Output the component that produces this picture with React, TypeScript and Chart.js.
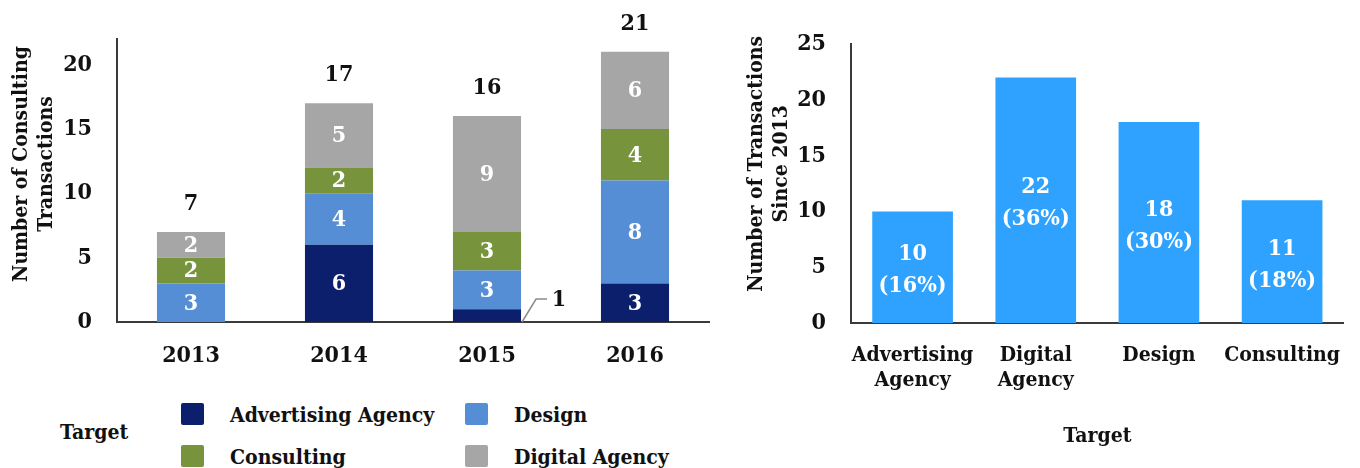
import React, { useEffect, useRef } from "react";
import { Chart, registerables } from "chart.js";

Chart.register(...registerables);

// ---------- data ----------
const years = ["2013", "2014", "2015", "2016"];
const advertisingAgency = [0, 6, 1, 3];
const design = [3, 4, 3, 8];
const consulting = [2, 2, 3, 4];
const digitalAgency = [2, 5, 9, 6];

const targets = [["Advertising", "Agency"], ["Digital", "Agency"], "Design", "Consulting"];
const sinceTotals = [10, 22, 18, 11];
const sinceShares = ["16%", "36%", "30%", "18%"];

const leftTickMax = 22;
const rightTickMax = 25;

// ---------- style ----------
const FONT = "'DejaVu Serif Condensed', 'DejaVu Serif', serif";
const NAVY = "#0b1f6c";
const LIGHT_BLUE = "#558ed5";
const GREEN = "#77933c";
const GREY = "#a6a6a6";
const BRIGHT = "#2ea2fe";
const AXIS = "#3a3a3a";
const TEXT = "#111111";

const leftLabelsPlugin = {
  id: "leftLabels",
  afterDatasetsDraw(chart: any) {
    const ctx = chart.ctx;
    ctx.save();
    ctx.font = `bold 23px ${FONT}`;
    ctx.textAlign = "center";
    ctx.textBaseline = "middle";
    const tops: number[] = [];
    const totals: number[] = [];
    const xs: number[] = [];
    chart.data.datasets.forEach((ds: any, i: number) => {
      const meta = chart.getDatasetMeta(i);
      meta.data.forEach((bar: any, j: number) => {
        const v = ds.data[j];
        const p = bar.getProps(["x", "y", "base", "width"], true);
        xs[j] = p.x;
        totals[j] = (totals[j] || 0) + v;
        if (!v) return;
        tops[j] = tops[j] === undefined ? p.y : Math.min(tops[j], p.y);
        const h = p.base - p.y;
        if (h >= 24) {
          ctx.fillStyle = "#ffffff";
          ctx.fillText(String(v), p.x, (p.y + p.base) / 2 + 1);
        } else {
          const ex = p.x + p.width / 2;
          ctx.strokeStyle = "#8a8a8a";
          ctx.lineWidth = 1.5;
          ctx.beginPath();
          ctx.moveTo(ex + 1, p.base);
          ctx.lineTo(ex + 15, p.base - 23);
          ctx.lineTo(ex + 26, p.base - 23);
          ctx.stroke();
          ctx.fillStyle = TEXT;
          ctx.fillText(String(v), ex + 38, p.base - 22);
        }
      });
    });
    ctx.fillStyle = TEXT;
    for (let j = 0; j < xs.length; j++) {
      ctx.fillText(String(totals[j]), xs[j], tops[j] - 28);
    }
    ctx.restore();
  },
};

const rightLabelsPlugin = {
  id: "rightLabels",
  afterDatasetsDraw(chart: any) {
    const ctx = chart.ctx;
    ctx.save();
    ctx.font = `bold 23px ${FONT}`;
    ctx.textAlign = "center";
    ctx.textBaseline = "middle";
    ctx.fillStyle = "#ffffff";
    const meta = chart.getDatasetMeta(0);
    meta.data.forEach((bar: any, j: number) => {
      const p = bar.getProps(["x", "y", "base"], true);
      const cy = (p.y + p.base) / 2 + 3;
      ctx.fillText(String(sinceTotals[j]), p.x, cy - 16);
      ctx.fillText(`(${sinceShares[j]})`, p.x, cy + 16);
    });
    ctx.restore();
  },
};

const tickFont = { family: FONT, size: 23, weight: "bold" as const };
const titleFont = { family: FONT, size: 21, weight: "bold" as const };

export default function App() {
  const leftRef = useRef<HTMLCanvasElement>(null);
  const rightRef = useRef<HTMLCanvasElement>(null);

  useEffect(() => {
    const left = new Chart(leftRef.current as HTMLCanvasElement, {
      type: "bar",
      data: {
        labels: years,
        datasets: [
          { label: "Advertising Agency", data: advertisingAgency, backgroundColor: NAVY },
          { label: "Design", data: design, backgroundColor: LIGHT_BLUE },
          { label: "Consulting", data: consulting, backgroundColor: GREEN },
          { label: "Digital Agency", data: digitalAgency, backgroundColor: GREY },
        ],
      },
      options: {
        animation: false,
        responsive: false,
        maintainAspectRatio: false,
        layout: { padding: { top: 33, right: 11, left: 0, bottom: 0 } },
        datasets: { bar: { barPercentage: 0.46, categoryPercentage: 1 } },
        plugins: { legend: { display: false }, tooltip: { enabled: false } },
        scales: {
          x: {
            stacked: true,
            grid: { display: false, drawTicks: false },
            border: { display: true, color: AXIS, width: 2 },
            ticks: { font: tickFont, color: TEXT, padding: 20 },
            afterFit: (s: any) => {
              s.height = 68;
            },
          },
          y: {
            stacked: true,
            min: 0,
            max: leftTickMax,
            grid: { display: false, drawTicks: false },
            border: { display: true, color: AXIS, width: 2 },
            ticks: { stepSize: 5, includeBounds: false, font: tickFont, color: TEXT, padding: 25 },
            title: {
              display: true,
              text: ["     Number of Consulting", "     Transactions"],
              font: titleFont,
              color: TEXT,
              padding: { top: 9, bottom: 0 },
            },
            afterFit: (s: any) => {
              s.width = 117;
            },
          },
        },
      },
      plugins: [leftLabelsPlugin],
    } as any);

    const right = new Chart(rightRef.current as HTMLCanvasElement, {
      type: "bar",
      data: {
        labels: targets,
        datasets: [{ label: "Number of Transactions Since 2013", data: sinceTotals, backgroundColor: BRIGHT }],
      },
      options: {
        animation: false,
        responsive: false,
        maintainAspectRatio: false,
        layout: { padding: { top: 44, right: 0, left: 0, bottom: 0 } },
        datasets: { bar: { barPercentage: 0.655, categoryPercentage: 1 } },
        plugins: { legend: { display: false }, tooltip: { enabled: false } },
        scales: {
          x: {
            grid: { display: false, drawTicks: false },
            border: { display: true, color: AXIS, width: 2 },
            ticks: { font: { family: FONT, size: 21, weight: "bold" }, color: TEXT, padding: 20, maxRotation: 0 },
            title: {
              display: true,
              text: "Target",
              font: titleFont,
              color: TEXT,
              padding: { top: 0, bottom: 19 },
            },
            afterFit: (s: any) => {
              s.height = 145;
            },
          },
          y: {
            min: 0,
            max: rightTickMax,
            grid: { display: false, drawTicks: false },
            border: { display: true, color: AXIS, width: 2 },
            ticks: { stepSize: 5, font: tickFont, color: TEXT, padding: 25 },
            title: {
              display: true,
              text: ["      Number of Transactions", "      Since 2013"],
              font: titleFont,
              color: TEXT,
              padding: { top: 24, bottom: 0 },
            },
            afterFit: (s: any) => {
              s.width = 131;
            },
          },
        },
      },
      plugins: [rightLabelsPlugin],
    } as any);

    return () => {
      left.destroy();
      right.destroy();
    };
  }, []);

  const legendItems = [
    { label: "Advertising Agency", color: NAVY, x: 181, y: 415 },
    { label: "Design", color: LIGHT_BLUE, x: 465, y: 415 },
    { label: "Consulting", color: GREEN, x: 181, y: 457 },
    { label: "Digital Agency", color: GREY, x: 465, y: 457 },
  ];

  const textStyle: React.CSSProperties = {
    position: "absolute",
    fontFamily: FONT,
    fontWeight: "bold",
    fontSize: 21,
    color: TEXT,
    lineHeight: "26px",
    whiteSpace: "nowrap",
    transform: "translateY(-50%)",
  };

  return (
    <div style={{ position: "absolute", left: 0, top: 0, width: 1360, height: 468, background: "#fff", overflow: "hidden" }}>
      <canvas ref={leftRef} width={720} height={390} style={{ position: "absolute", left: 0, top: 0, width: 720, height: 390 }} />
      <canvas ref={rightRef} width={640} height={468} style={{ position: "absolute", left: 720, top: 0, width: 640, height: 468 }} />
      <div style={{ ...textStyle, left: 60, top: 432 }}>Target</div>
      {legendItems.map((it) => (
        <React.Fragment key={it.label}>
          <div
            style={{
              position: "absolute",
              left: it.x,
              top: it.y - 12,
              width: 23,
              height: 22,
              background: it.color,
              borderRadius: 2,
            }}
          />
          <div style={{ ...textStyle, left: it.x + 49, top: it.y }}>{it.label}</div>
        </React.Fragment>
      ))}
    </div>
  );
}
